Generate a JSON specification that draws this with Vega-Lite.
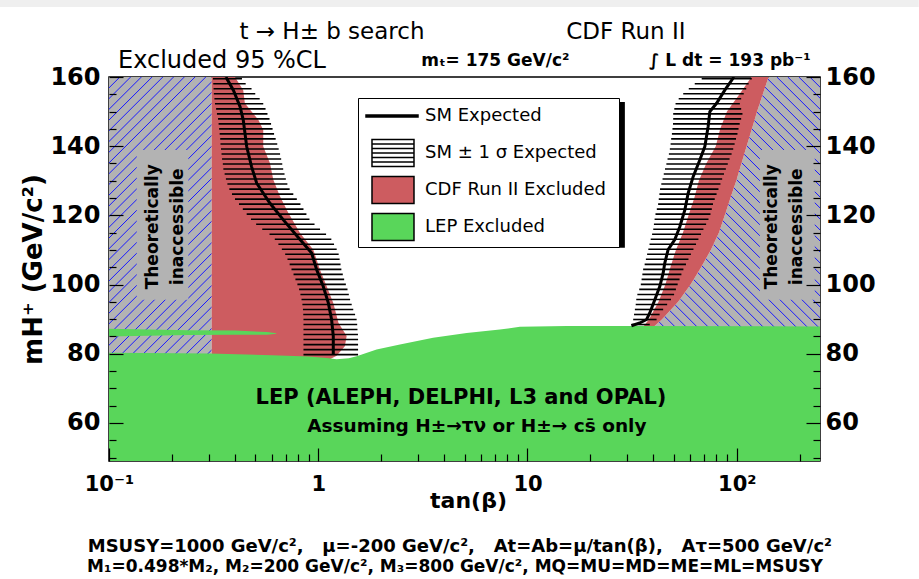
{
  "$schema": "https://vega.github.io/schema/vega-lite/v6.json",
  "width": 711,
  "height": 384,
  "autosize": {"type": "none"},
  "padding": {"left": 109, "top": 77, "right": 99, "bottom": 118},
  "background": "white",
  "config": {
    "view": {"stroke": "black", "strokeWidth": 1.5},
    "font": "DejaVu Sans",
    "legend": {"labelFont": "DejaVu Sans", "labelFontSize": 18, "labelColor": "black", "padding": 3, "strokeColor": "black", "fillColor": "white", "rowPadding": 3, "labelOffset": 34, "symbolSize": 784, "symbolStrokeColor": "black", "symbolStrokeWidth": 1.5, "labelLimit": 400, "cornerRadius": 0}
  },
  "datasets": {
    "one": [{}],
    "sm": [
      {"side": "L", "m": 160, "t": 0.362}, {"side": "L", "m": 156.2, "t": 0.393}, {"side": "L", "m": 151.4, "t": 0.423}, {"side": "L", "m": 147.6, "t": 0.438}, {"side": "L", "m": 139.9, "t": 0.455}, {"side": "L", "m": 134.1, "t": 0.48}, {"side": "L", "m": 129.3, "t": 0.508}, {"side": "L", "m": 123.5, "t": 0.588}, {"side": "L", "m": 118.7, "t": 0.681}, {"side": "L", "m": 113.0, "t": 0.818}, {"side": "L", "m": 109.1, "t": 0.93}, {"side": "L", "m": 104.3, "t": 0.983}, {"side": "L", "m": 99.5, "t": 1.056}, {"side": "L", "m": 94.7, "t": 1.117}, {"side": "L", "m": 89.9, "t": 1.158}, {"side": "L", "m": 85.1, "t": 1.18}, {"side": "L", "m": 79.8, "t": 1.18},
      {"side": "R", "m": 160, "t": 97}, {"side": "R", "m": 156.2, "t": 87.7}, {"side": "R", "m": 152.4, "t": 80.1}, {"side": "R", "m": 150.0, "t": 74.4}, {"side": "R", "m": 145.7, "t": 73.0}, {"side": "R", "m": 139.9, "t": 70.4}, {"side": "R", "m": 136.0, "t": 66.6}, {"side": "R", "m": 131.2, "t": 61.9}, {"side": "R", "m": 126.4, "t": 58.6}, {"side": "R", "m": 121.6, "t": 56.5}, {"side": "R", "m": 116.8, "t": 53.5}, {"side": "R", "m": 113.0, "t": 50.6}, {"side": "R", "m": 110.1, "t": 47.0}, {"side": "R", "m": 106.2, "t": 45.3}, {"side": "R", "m": 103.3, "t": 44.5}, {"side": "R", "m": 99.5, "t": 42.9}, {"side": "R", "m": 95.6, "t": 40.6}, {"side": "R", "m": 91.8, "t": 38.4}, {"side": "R", "m": 89.9, "t": 37.1}, {"side": "R", "m": 88.9, "t": 34.4}, {"side": "R", "m": 88.1, "t": 31.4}
    ],
    "band": [
      {"m": 159.5, "lo": 0.314, "hi": 0.432}, {"m": 158.05, "lo": 0.315, "hi": 0.45}, {"m": 156.6, "lo": 0.316, "hi": 0.48}, {"m": 155.15, "lo": 0.317, "hi": 0.5}, {"m": 153.7, "lo": 0.319, "hi": 0.525}, {"m": 152.25, "lo": 0.321, "hi": 0.546}, {"m": 150.8, "lo": 0.325, "hi": 0.56}, {"m": 149.35, "lo": 0.328, "hi": 0.572}, {"m": 147.9, "lo": 0.332, "hi": 0.585}, {"m": 146.45, "lo": 0.334, "hi": 0.595}, {"m": 145.0, "lo": 0.336, "hi": 0.605}, {"m": 143.55, "lo": 0.338, "hi": 0.615}, {"m": 142.1, "lo": 0.34, "hi": 0.626}, {"m": 140.65, "lo": 0.341, "hi": 0.637}, {"m": 139.2, "lo": 0.343, "hi": 0.647}, {"m": 137.75, "lo": 0.345, "hi": 0.657}, {"m": 136.3, "lo": 0.347, "hi": 0.665}, {"m": 134.85, "lo": 0.35, "hi": 0.673}, {"m": 133.4, "lo": 0.352, "hi": 0.68}, {"m": 131.95, "lo": 0.357, "hi": 0.69}, {"m": 130.5, "lo": 0.362, "hi": 0.7}, {"m": 129.05, "lo": 0.368, "hi": 0.712}, {"m": 127.6, "lo": 0.376, "hi": 0.73}, {"m": 126.15, "lo": 0.387, "hi": 0.76}, {"m": 124.7, "lo": 0.4, "hi": 0.79}, {"m": 123.25, "lo": 0.418, "hi": 0.822}, {"m": 121.8, "lo": 0.436, "hi": 0.85}, {"m": 120.35, "lo": 0.455, "hi": 0.878}, {"m": 118.9, "lo": 0.477, "hi": 0.908}, {"m": 117.45, "lo": 0.505, "hi": 0.96}, {"m": 116.0, "lo": 0.54, "hi": 1.02}, {"m": 114.55, "lo": 0.585, "hi": 1.09}, {"m": 113.1, "lo": 0.62, "hi": 1.155}, {"m": 111.65, "lo": 0.645, "hi": 1.19}, {"m": 110.2, "lo": 0.67, "hi": 1.225}, {"m": 108.75, "lo": 0.695, "hi": 1.252}, {"m": 107.3, "lo": 0.713, "hi": 1.265}, {"m": 105.85, "lo": 0.73, "hi": 1.278}, {"m": 104.4, "lo": 0.745, "hi": 1.29}, {"m": 102.95, "lo": 0.762, "hi": 1.31}, {"m": 101.5, "lo": 0.778, "hi": 1.33}, {"m": 100.05, "lo": 0.795, "hi": 1.355}, {"m": 98.6, "lo": 0.81, "hi": 1.38}, {"m": 97.15, "lo": 0.822, "hi": 1.4}, {"m": 95.7, "lo": 0.832, "hi": 1.42}, {"m": 94.25, "lo": 0.84, "hi": 1.445}, {"m": 92.8, "lo": 0.845, "hi": 1.47}, {"m": 91.35, "lo": 0.848, "hi": 1.5}, {"m": 89.9, "lo": 0.85, "hi": 1.526}, {"m": 88.45, "lo": 0.85, "hi": 1.535}, {"m": 87.0, "lo": 0.85, "hi": 1.54}, {"m": 85.55, "lo": 0.85, "hi": 1.548}, {"m": 84.1, "lo": 0.85, "hi": 1.55}, {"m": 82.65, "lo": 0.85, "hi": 1.55}, {"m": 81.2, "lo": 0.85, "hi": 1.55}, {"m": 79.75, "lo": 0.85, "hi": 1.55},
      {"m": 159.5, "lo": 68, "hi": 118}, {"m": 158.05, "lo": 63, "hi": 114}, {"m": 156.6, "lo": 59, "hi": 111}, {"m": 155.15, "lo": 55.5, "hi": 108}, {"m": 153.7, "lo": 52.8, "hi": 105}, {"m": 152.25, "lo": 51, "hi": 103.5}, {"m": 150.8, "lo": 50.3, "hi": 105}, {"m": 149.35, "lo": 49.7, "hi": 106.5}, {"m": 147.9, "lo": 49.7, "hi": 105}, {"m": 146.45, "lo": 49.6, "hi": 103.3}, {"m": 145.0, "lo": 49.3, "hi": 102}, {"m": 143.55, "lo": 49.0, "hi": 100.8}, {"m": 142.1, "lo": 48.6, "hi": 99.2}, {"m": 140.65, "lo": 48.3, "hi": 97.7}, {"m": 139.2, "lo": 47.9, "hi": 96.2}, {"m": 137.75, "lo": 47.4, "hi": 94.5}, {"m": 136.3, "lo": 46.7, "hi": 92.4}, {"m": 134.85, "lo": 46.1, "hi": 90.6}, {"m": 133.4, "lo": 45.4, "hi": 88.7}, {"m": 131.95, "lo": 44.8, "hi": 86.9}, {"m": 130.5, "lo": 44.2, "hi": 85.2}, {"m": 129.05, "lo": 43.6, "hi": 83.6}, {"m": 127.6, "lo": 43.0, "hi": 81.8}, {"m": 126.15, "lo": 42.7, "hi": 80.1}, {"m": 124.7, "lo": 42.4, "hi": 78.5}, {"m": 123.25, "lo": 42.1, "hi": 77.0}, {"m": 121.8, "lo": 41.5, "hi": 76.0}, {"m": 120.35, "lo": 40.9, "hi": 74.9}, {"m": 118.9, "lo": 40.5, "hi": 73.3}, {"m": 117.45, "lo": 40.2, "hi": 71.4}, {"m": 116.0, "lo": 39.9, "hi": 69.3}, {"m": 114.55, "lo": 39.4, "hi": 67.5}, {"m": 113.1, "lo": 38.8, "hi": 65.6}, {"m": 111.65, "lo": 38.3, "hi": 63.9}, {"m": 110.2, "lo": 37.8, "hi": 62.1}, {"m": 108.75, "lo": 37.3, "hi": 60.4}, {"m": 107.3, "lo": 36.8, "hi": 58.8}, {"m": 105.85, "lo": 36.3, "hi": 57.2}, {"m": 104.4, "lo": 35.7, "hi": 55.6}, {"m": 102.95, "lo": 35.4, "hi": 54.4}, {"m": 101.5, "lo": 35.1, "hi": 53.3}, {"m": 100.05, "lo": 34.8, "hi": 52.2}, {"m": 98.6, "lo": 34.2, "hi": 51.2}, {"m": 97.15, "lo": 33.5, "hi": 50.2}, {"m": 95.7, "lo": 33.1, "hi": 48.5}, {"m": 94.25, "lo": 32.9, "hi": 46.5}, {"m": 92.8, "lo": 32.6, "hi": 44.5}, {"m": 91.35, "lo": 32.3, "hi": 42.8}, {"m": 89.9, "lo": 32.0, "hi": 41.4}, {"m": 88.45, "lo": 31.4, "hi": 38.4}
    ],
    "redL": [
      {"m": 160, "xr": 0.4}, {"m": 156.2, "xr": 0.438}, {"m": 152.4, "xr": 0.446}, {"m": 147.6, "xr": 0.518}, {"m": 144.7, "xr": 0.546}, {"m": 139.9, "xr": 0.546}, {"m": 135.1, "xr": 0.588}, {"m": 130.3, "xr": 0.61}, {"m": 125.5, "xr": 0.656}, {"m": 120.7, "xr": 0.72}, {"m": 114.9, "xr": 0.818}, {"m": 110.1, "xr": 0.947}, {"m": 104.3, "xr": 1.019}, {"m": 99.5, "xr": 1.097}, {"m": 94.7, "xr": 1.18}, {"m": 88.9, "xr": 1.25}, {"m": 85.1, "xr": 1.367}, {"m": 82.2, "xr": 1.34}, {"m": 79.4, "xr": 1.224}, {"m": 78.0, "xr": 1.1}
    ],
    "redR": [
      {"m": 160, "lo": 117.6, "hi": 142}, {"m": 155, "lo": 103, "hi": 133.2}, {"m": 150, "lo": 89.8, "hi": 125.1}, {"m": 145, "lo": 83.3, "hi": 118.1}, {"m": 140, "lo": 79.4, "hi": 111.5}, {"m": 135, "lo": 71.5, "hi": 105.3}, {"m": 130, "lo": 65.9, "hi": 99.5}, {"m": 125, "lo": 62.7, "hi": 93.3}, {"m": 120, "lo": 58.8, "hi": 87.6}, {"m": 115, "lo": 55.3, "hi": 82.2}, {"m": 110, "lo": 51.2, "hi": 75.2}, {"m": 105, "lo": 48.2, "hi": 67.6}, {"m": 100, "lo": 45.6, "hi": 60.2}, {"m": 95, "lo": 42.3, "hi": 52.5}, {"m": 90, "lo": 38.1, "hi": 44.0}, {"m": 88, "lo": 36, "hi": 40.5}, {"m": 86, "lo": 34.5, "hi": 38.5}
    ],
    "green": [
      {"t": 0.1, "m": 80.3}, {"t": 0.3, "m": 80.1}, {"t": 0.6, "m": 79.6}, {"t": 0.9, "m": 79.2}, {"t": 1.1, "m": 78.8}, {"t": 1.224, "m": 78.4}, {"t": 1.4, "m": 78.7}, {"t": 1.526, "m": 79.3}, {"t": 1.9, "m": 81.2}, {"t": 2.457, "m": 82.7}, {"t": 3.54, "m": 84.6}, {"t": 5.12, "m": 86.0}, {"t": 7.38, "m": 87.0}, {"t": 9.2, "m": 87.8}, {"t": 15.4, "m": 88.0}, {"t": 31.9, "m": 88.0}, {"t": 250, "m": 87.9}
    ],
    "strip": [
      {"t": 0.1, "top": 87.2, "bot": 85.0}, {"t": 0.24, "top": 86.8, "bot": 85.4}, {"t": 0.4, "top": 86.7, "bot": 85.5}, {"t": 0.57, "top": 86.3, "bot": 85.5}, {"t": 0.63, "top": 85.9, "bot": 85.8}
    ],
    "hatchL": [
      {"a": 51.46, "b": 81.1}, {"a": 54.56, "b": 84.2}, {"a": 57.66, "b": 87.3}, {"a": 60.76, "b": 90.4}, {"a": 63.86, "b": 93.5}, {"a": 66.96, "b": 96.6}, {"a": 70.06, "b": 99.7}, {"a": 73.16, "b": 102.8}, {"a": 76.26, "b": 105.9}, {"a": 79.36, "b": 109.0}, {"a": 82.46, "b": 112.1}, {"a": 85.56, "b": 115.2}, {"a": 88.66, "b": 118.3}, {"a": 91.76, "b": 121.4}, {"a": 94.86, "b": 124.5}, {"a": 97.96, "b": 127.6}, {"a": 101.06, "b": 130.7}, {"a": 104.16, "b": 133.8}, {"a": 107.26, "b": 136.9}, {"a": 110.36, "b": 140.0}, {"a": 113.46, "b": 143.1}, {"a": 116.56, "b": 146.2}, {"a": 119.66, "b": 149.3}, {"a": 122.76, "b": 152.4}, {"a": 125.86, "b": 155.5}, {"a": 128.96, "b": 158.6}, {"a": 132.06, "b": 161.7}, {"a": 135.16, "b": 164.8}, {"a": 138.26, "b": 167.9}, {"a": 141.36, "b": 171.0}, {"a": 144.46, "b": 174.1}, {"a": 147.56, "b": 177.2}, {"a": 150.66, "b": 180.3}, {"a": 153.76, "b": 183.4}, {"a": 156.86, "b": 186.5}, {"a": 159.96, "b": 189.6}
    ],
    "hatchR": [
      {"t0": 39.43, "m0": 88.05, "t1": 356.1, "m1": 30.33}, {"t0": 42.58, "m0": 89.19, "t1": 384.5, "m1": 31.47}, {"t0": 45.27, "m0": 90.78, "t1": 408.8, "m1": 33.06}, {"t0": 48.0, "m0": 92.41, "t1": 433.4, "m1": 34.69}, {"t0": 50.83, "m0": 94.08, "t1": 459.0, "m1": 36.36}, {"t0": 53.83, "m0": 95.76, "t1": 486.1, "m1": 38.04}, {"t0": 56.75, "m0": 97.55, "t1": 512.5, "m1": 39.83}, {"t0": 59.43, "m0": 99.51, "t1": 536.7, "m1": 41.79}, {"t0": 62.25, "m0": 101.44, "t1": 562.1, "m1": 43.72}, {"t0": 65.26, "m0": 103.41, "t1": 589.3, "m1": 45.69}, {"t0": 68.19, "m0": 105.4, "t1": 615.8, "m1": 47.68}, {"t0": 71.26, "m0": 107.45, "t1": 643.5, "m1": 49.73}, {"t0": 74.39, "m0": 109.49, "t1": 671.7, "m1": 51.77}, {"t0": 77.64, "m0": 111.52, "t1": 701.1, "m1": 53.8}, {"t0": 80.78, "m0": 113.68, "t1": 729.4, "m1": 55.96}, {"t0": 83.32, "m0": 116.05, "t1": 752.4, "m1": 58.33}, {"t0": 85.83, "m0": 118.44, "t1": 775.0, "m1": 60.72}, {"t0": 88.5, "m0": 120.81, "t1": 799.2, "m1": 63.09}, {"t0": 91.17, "m0": 123.2, "t1": 823.3, "m1": 65.48}, {"t0": 94.03, "m0": 125.57, "t1": 849.1, "m1": 67.85}, {"t0": 96.85, "m0": 127.97, "t1": 874.6, "m1": 70.25}, {"t0": 99.88, "m0": 130.33, "t1": 901.9, "m1": 72.61}, {"t0": 102.68, "m0": 132.79, "t1": 927.2, "m1": 75.07}, {"t0": 105.66, "m0": 135.21, "t1": 954.1, "m1": 77.49}, {"t0": 108.6, "m0": 137.66, "t1": 980.7, "m1": 79.94}, {"t0": 111.6, "m0": 140.12, "t1": 1007.7, "m1": 82.4}, {"t0": 114.9, "m0": 142.54, "t1": 1037.5, "m1": 84.82}, {"t0": 118.1, "m0": 144.99, "t1": 1066.4, "m1": 87.27}, {"t0": 121.4, "m0": 147.45, "t1": 1096.2, "m1": 89.73}, {"t0": 124.9, "m0": 149.87, "t1": 1127.8, "m1": 92.15}, {"t0": 128.5, "m0": 152.27, "t1": 1160.4, "m1": 94.55}, {"t0": 132.4, "m0": 154.69, "t1": 1195.6, "m1": 96.97}, {"t0": 136.4, "m0": 157.09, "t1": 1231.7, "m1": 99.37}, {"t0": 140.3, "m0": 159.51, "t1": 1266.9, "m1": 101.79}, {"t0": 155.5, "m0": 160, "t1": 1404, "m1": 102.28}, {"t0": 175.4, "m0": 160, "t1": 1584, "m1": 102.28}, {"t0": 198.1, "m0": 160, "t1": 1789, "m1": 102.28}, {"t0": 223.6, "m0": 160, "t1": 2019, "m1": 102.28}
    ],
    "legend": [
      {"cat": "SM Expected"}, {"cat": "SM ± 1 σ Expected"}, {"cat": "CDF Run II Excluded"}, {"cat": "LEP Excluded"}
    ]
  },
  "resolve": {"axis": {"x": "independent", "y": "independent"}},
  "layer": [
    {
      "data": {"name": "one"},
      "mark": {"type": "rect", "color": "#efefef"},
      "encoding": {
        "x": {"datum": 0.0301, "type": "quantitative", "scale": {"type": "log", "domain": [0.1, 250], "nice": false}, "axis": null},
        "x2": {"datum": 741},
        "y": {"datum": 180.2, "type": "quantitative", "scale": {"domain": [49, 160], "nice": false, "zero": false}, "axis": null},
        "y2": {"datum": 182.3}
      }
    },
    {
      "data": {"name": "one"},
      "mark": {"type": "rect", "color": "#b3b3b3", "clip": true},
      "encoding": {
        "x": {"datum": 0.1, "type": "quantitative", "axis": null},
        "x2": {"datum": 0.3095},
        "y": {"datum": 49, "type": "quantitative", "axis": null},
        "y2": {"datum": 160}
      }
    },
    {
      "data": {"name": "redR"},
      "mark": {"type": "area", "orient": "horizontal", "color": "#b3b3b3", "clip": true},
      "encoding": {
        "y": {"field": "m", "type": "quantitative", "axis": null},
        "x": {"field": "hi", "type": "quantitative", "axis": null},
        "x2": {"datum": 250}
      }
    },
    {
      "data": {"name": "hatchL"},
      "mark": {"type": "rule", "color": "#1a1aff", "strokeWidth": 1, "clip": true},
      "encoding": {
        "x": {"datum": 0.1, "type": "quantitative", "axis": null},
        "x2": {"datum": 0.3095},
        "y": {"field": "a", "type": "quantitative", "axis": null},
        "y2": {"field": "b"}
      }
    },
    {
      "data": {"name": "hatchR"},
      "mark": {"type": "rule", "color": "#1a1aff", "strokeWidth": 1, "clip": true},
      "encoding": {
        "x": {"field": "t0", "type": "quantitative", "axis": null},
        "x2": {"field": "t1"},
        "y": {"field": "m0", "type": "quantitative", "axis": null},
        "y2": {"field": "m1"}
      }
    },
    {
      "data": {"name": "one"},
      "mark": {"type": "rect", "color": "#b3b3b3"},
      "encoding": {
        "x": {"datum": 0.1357, "type": "quantitative", "axis": null},
        "x2": {"datum": 0.2394},
        "y": {"datum": 95.6, "type": "quantitative", "axis": null},
        "y2": {"datum": 138.9}
      }
    },
    {
      "data": {"name": "one"},
      "mark": {"type": "rect", "color": "#b3b3b3"},
      "encoding": {
        "x": {"datum": 128.9, "type": "quantitative", "axis": null},
        "x2": {"datum": 236},
        "y": {"datum": 95.6, "type": "quantitative", "axis": null},
        "y2": {"datum": 138.9}
      }
    },
    {
      "data": {"name": "redL"},
      "mark": {"type": "area", "orient": "horizontal", "color": "#cd5c60", "clip": true},
      "encoding": {
        "y": {"field": "m", "type": "quantitative", "axis": null},
        "x": {"field": "xr", "type": "quantitative", "axis": null},
        "x2": {"datum": 0.3095}
      }
    },
    {
      "data": {"name": "redR"},
      "mark": {"type": "area", "orient": "horizontal", "color": "#cd5c60", "clip": true},
      "encoding": {
        "y": {"field": "m", "type": "quantitative", "axis": null},
        "x": {"field": "lo", "type": "quantitative", "axis": null},
        "x2": {"field": "hi"}
      }
    },
    {
      "data": {"name": "green"},
      "mark": {"type": "area", "color": "#59d65a", "clip": true},
      "encoding": {
        "x": {
          "field": "t", "type": "quantitative",
          "axis": {
            "orient": "bottom", "zindex": 1,
            "values": [0.1, 1, 10, 100],
            "labelExpr": "datum.value == 0.1 ? '10⁻¹' : datum.value == 1 ? '1' : datum.value == 10 ? '10' : '10²'",
            "tickSize": -13, "tickColor": "black", "tickWidth": 1.2, "domain": false, "grid": false,
            "labelFont": "DejaVu Sans", "labelFontWeight": "bold", "labelFontSize": 21, "labelColor": "black", "labelPadding": 25,
            "labelOverlap": false, "labelFlush": false, "labelBound": false,
            "title": "tan(β)", "titleFont": "DejaVu Sans", "titleFontWeight": "bold", "titleFontSize": 22, "titleColor": "black",
            "titleBaseline": "alphabetic", "titleAlign": "center", "titleX": 359, "titleY": 46
          }
        },
        "y": {
          "field": "m", "type": "quantitative",
          "axis": {
            "orient": "left", "zindex": 1,
            "values": [60, 80, 100, 120, 140, 160],
            "tickSize": -14, "tickColor": "black", "tickWidth": 1.2, "domain": false, "grid": false,
            "labelFont": "DejaVu Sans", "labelFontWeight": "bold", "labelFontSize": 24, "labelColor": "black", "labelPadding": 23,
            "labelOverlap": false, "labelFlush": false, "labelBound": false,
            "title": "mH⁺ (GeV/c²)", "titleFont": "DejaVu Sans", "titleFontWeight": "bold", "titleFontSize": 26, "titleColor": "black",
            "titleAngle": 270, "titleX": -76, "titleY": 192, "titleAlign": "center", "titleBaseline": "middle"
          }
        },
        "y2": {"datum": 40}
      }
    },
    {
      "data": {"name": "strip"},
      "mark": {"type": "area", "color": "#59d65a", "clip": true},
      "encoding": {
        "x": {
          "field": "t", "type": "quantitative",
          "axis": {
            "orient": "bottom", "zindex": 1,
            "values": [0.2, 0.3, 0.4, 0.5, 0.6, 0.7, 0.8, 0.9, 2, 3, 4, 5, 6, 7, 8, 9, 20, 30, 40, 50, 60, 70, 80, 90, 200],
            "tickSize": -7, "tickColor": "black", "tickWidth": 1.2, "domain": false, "grid": false, "labels": false, "title": null
          }
        },
        "y": {
          "field": "top", "type": "quantitative",
          "axis": {
            "orient": "left", "zindex": 1,
            "values": [50, 55, 65, 70, 75, 85, 90, 95, 105, 110, 115, 125, 130, 135, 145, 150, 155],
            "tickSize": -7, "tickColor": "black", "tickWidth": 1.2, "domain": false, "grid": false, "labels": false, "title": null
          }
        },
        "y2": {"field": "bot"}
      }
    },
    {
      "data": {"name": "band"},
      "mark": {"type": "rule", "color": "black", "strokeWidth": 1.6, "clip": true},
      "encoding": {
        "x": {"field": "lo", "type": "quantitative", "axis": null},
        "x2": {"field": "hi"},
        "y": {
          "field": "m", "type": "quantitative",
          "axis": {
            "orient": "right", "zindex": 1,
            "values": [50, 55, 65, 70, 75, 85, 90, 95, 105, 110, 115, 125, 130, 135, 145, 150, 155],
            "tickSize": -7, "tickColor": "black", "tickWidth": 1.2, "domain": false, "grid": false, "labels": false, "title": null
          }
        }
      }
    },
    {
      "data": {"name": "sm"},
      "mark": {"type": "line", "color": "black", "strokeWidth": 3, "clip": true},
      "encoding": {
        "x": {"field": "t", "type": "quantitative", "axis": null},
        "y": {
          "field": "m", "type": "quantitative",
          "axis": {
            "orient": "right", "zindex": 1,
            "values": [60, 80, 100, 120, 140, 160],
            "tickSize": -14, "tickColor": "black", "tickWidth": 1.2, "domain": false, "grid": false,
            "labelFont": "DejaVu Sans", "labelFontWeight": "bold", "labelFontSize": 24, "labelColor": "black", "labelPadding": 19,
            "labelOverlap": false, "labelFlush": false, "labelBound": false,
            "title": null
          }
        },
        "detail": {"field": "side", "type": "nominal"},
        "order": {"field": "m", "type": "quantitative"}
      }
    },
    {
      "data": {"name": "one"},
      "mark": {"type": "text", "text": "Theoretically", "angle": 270, "font": "DejaVu Sans", "fontWeight": "bold", "fontSize": 17, "color": "black", "align": "center", "baseline": "middle"},
      "encoding": {"x": {"datum": 0.162, "type": "quantitative", "axis": null}, "y": {"datum": 116.7, "type": "quantitative", "axis": null}}
    },
    {
      "data": {"name": "one"},
      "mark": {"type": "text", "text": "inaccessible", "angle": 270, "font": "DejaVu Sans", "fontWeight": "bold", "fontSize": 17, "color": "black", "align": "center", "baseline": "middle"},
      "encoding": {"x": {"datum": 0.2137, "type": "quantitative", "axis": null}, "y": {"datum": 116.7, "type": "quantitative", "axis": null}}
    },
    {
      "data": {"name": "one"},
      "mark": {"type": "text", "text": "Theoretically", "angle": 270, "font": "DejaVu Sans", "fontWeight": "bold", "fontSize": 17, "color": "black", "align": "center", "baseline": "middle"},
      "encoding": {"x": {"datum": 147.2, "type": "quantitative", "axis": null}, "y": {"datum": 116.7, "type": "quantitative", "axis": null}}
    },
    {
      "data": {"name": "one"},
      "mark": {"type": "text", "text": "inaccessible", "angle": 270, "font": "DejaVu Sans", "fontWeight": "bold", "fontSize": 17, "color": "black", "align": "center", "baseline": "middle"},
      "encoding": {"x": {"datum": 193.7, "type": "quantitative", "axis": null}, "y": {"datum": 116.7, "type": "quantitative", "axis": null}}
    },
    {
      "data": {"name": "one"},
      "mark": {"type": "text", "text": "LEP (ALEPH, DELPHI, L3 and OPAL)", "font": "DejaVu Sans", "fontWeight": "bold", "fontSize": 21, "color": "black", "align": "center", "baseline": "middle"},
      "encoding": {"x": {"datum": 4.81, "type": "quantitative", "axis": null}, "y": {"datum": 67.07, "type": "quantitative", "axis": null}}
    },
    {
      "data": {"name": "one"},
      "mark": {"type": "text", "text": "Assuming H±→τν or H±→ cs̄ only", "font": "DejaVu Sans", "fontWeight": "bold", "fontSize": 18.5, "color": "black", "align": "center", "baseline": "middle"},
      "encoding": {"x": {"datum": 5.73, "type": "quantitative", "axis": null}, "y": {"datum": 59.0, "type": "quantitative", "axis": null}}
    },
    {
      "data": {"name": "one"},
      "mark": {"type": "rect", "color": "black"},
      "encoding": {
        "x": {"datum": 1.618, "type": "quantitative", "axis": null},
        "x2": {"datum": 29.2},
        "y": {"datum": 110.65, "type": "quantitative", "axis": null},
        "y2": {"datum": 152.8}
      }
    },
    {
      "data": {"name": "legend"},
      "mark": {"type": "point", "filled": true, "opacity": 1, "clip": true},
      "encoding": {
        "x": {"datum": 0.15, "type": "quantitative", "axis": null},
        "y": {"datum": 20, "type": "quantitative", "axis": null},
        "fill": {
          "field": "cat", "type": "nominal",
          "scale": {"domain": ["SM Expected", "SM ± 1 σ Expected", "CDF Run II Excluded", "LEP Excluded"], "range": ["black", "white", "#cd5c60", "#59d65a"]},
          "legend": {"title": null, "orient": "none", "legendX": 249, "legendY": 21}
        },
        "stroke": {
          "field": "cat", "type": "nominal",
          "scale": {"domain": ["SM Expected", "SM ± 1 σ Expected", "CDF Run II Excluded", "LEP Excluded"], "range": ["black", "black", "black", "black"]},
          "legend": {"title": null, "orient": "none", "legendX": 249, "legendY": 21}
        },
        "shape": {
          "field": "cat", "type": "nominal",
          "scale": {"domain": ["SM Expected", "SM ± 1 σ Expected", "CDF Run II Excluded", "LEP Excluded"], "range": ["M0,-0.96M0,0.96M16.9,0M-0.714,-0.07H3V0.07H-0.714Z", "M-0.286,-0.96H2.714V0.96H-0.286Z M-0.286,-0.64H2.714 M-0.286,-0.32H2.714 M-0.286,0H2.714 M-0.286,0.32H2.714 M-0.286,0.64H2.714", "M-0.286,-0.96H2.714V0.96H-0.286Z", "M-0.286,-0.96H2.714V0.96H-0.286Z"]},
          "legend": {"title": null, "orient": "none", "legendX": 249, "legendY": 21}
        }
      }
    },
    {
      "data": {"name": "one"},
      "mark": {"type": "text", "text": "t → H± b search", "font": "DejaVu Sans", "fontSize": 23, "color": "black", "align": "center", "baseline": "alphabetic"},
      "encoding": {"x": {"datum": 1.163, "type": "quantitative", "axis": null}, "y": {"datum": 171.0, "type": "quantitative", "axis": null}}
    },
    {
      "data": {"name": "one"},
      "mark": {"type": "text", "text": "CDF Run II", "font": "DejaVu Sans", "fontSize": 23, "color": "black", "align": "center", "baseline": "alphabetic"},
      "encoding": {"x": {"datum": 29.5, "type": "quantitative", "axis": null}, "y": {"datum": 171.0, "type": "quantitative", "axis": null}}
    },
    {
      "data": {"name": "one"},
      "mark": {"type": "text", "text": "Excluded 95 %CL", "font": "DejaVu Sans", "fontSize": 24, "color": "black", "align": "center", "baseline": "alphabetic"},
      "encoding": {"x": {"datum": 0.3467, "type": "quantitative", "axis": null}, "y": {"datum": 162.7, "type": "quantitative", "axis": null}}
    },
    {
      "data": {"name": "one"},
      "mark": {"type": "text", "text": "mₜ= 175 GeV/c²", "font": "DejaVu Sans", "fontWeight": "bold", "fontSize": 17, "color": "black", "align": "center", "baseline": "alphabetic"},
      "encoding": {"x": {"datum": 7.02, "type": "quantitative", "axis": null}, "y": {"datum": 163.3, "type": "quantitative", "axis": null}}
    },
    {
      "data": {"name": "one"},
      "mark": {"type": "text", "text": "∫ L dt = 193 pb⁻¹", "font": "DejaVu Sans", "fontWeight": "bold", "fontSize": 17, "color": "black", "align": "center", "baseline": "alphabetic"},
      "encoding": {"x": {"datum": 92.7, "type": "quantitative", "axis": null}, "y": {"datum": 163.3, "type": "quantitative", "axis": null}}
    },
    {
      "data": {"name": "one"},
      "mark": {"type": "text", "text": "MSUSY=1000 GeV/c²,\u00a0\u00a0 μ=-200 GeV/c²,\u00a0\u00a0 At=Ab=μ/tan(β),\u00a0\u00a0 Aτ=500 GeV/c²", "font": "DejaVu Sans", "fontWeight": "bold", "fontSize": 18, "color": "black", "align": "center", "baseline": "alphabetic"},
      "encoding": {"x": {"datum": 4.75, "type": "quantitative", "axis": null}, "y": {"datum": 22.6, "type": "quantitative", "axis": null}}
    },
    {
      "data": {"name": "one"},
      "mark": {"type": "text", "text": "M₁=0.498*M₂,  M₂=200 GeV/c², M₃=800 GeV/c²,   MQ=MU=MD=ME=ML=MSUSY", "font": "DejaVu Sans", "fontWeight": "bold", "fontSize": 17, "color": "black", "align": "center", "baseline": "alphabetic"},
      "encoding": {"x": {"datum": 4.5, "type": "quantitative", "axis": null}, "y": {"datum": 16.8, "type": "quantitative", "axis": null}}
    }
  ]
}
